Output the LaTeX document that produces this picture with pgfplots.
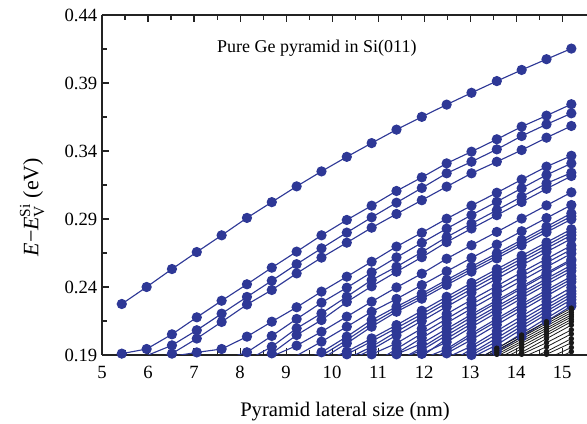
\documentclass[border=0pt]{standalone}
\usepackage{amsmath}
\usepackage{fontspec}
\setmainfont{Liberation Serif}
\usepackage{pgfplots}
\pgfplotsset{compat=1.18}

\definecolor{levelblue}{RGB}{46,56,150}
\definecolor{axisgray}{RGB}{35,35,35}

\tikzset{
  lvl/.style={levelblue, line width=0.85pt, mark=*, mark size=3.4pt, mark options={solid}},
  blk/.style={black!90, line width=0.6pt, mark=*, mark size=1.7pt, mark options={solid}},
}

\begin{document}
\begin{tikzpicture}
\begin{axis}[
  scale only axis,
  width=363.75pt, height=255pt,
  xmin=5, xmax=15.54, ymin=0.19, ymax=0.44,
  axis x line*=box, axis y line*=left,
  xtick={5,6,...,15}, minor x tick num=1,
  ytick={0.19,0.24,0.29,0.34,0.39,0.44}, minor y tick num=1,
  xtick pos=both, ytick pos=left,
  tick align=inside,
  major tick length=5pt, minor tick length=3.5pt,
  tick style={axisgray, line width=0.8pt},
  axis line style={axisgray, line width=1.1pt},
  /pgf/number format/assume math mode=true,
  yticklabel style={/pgf/number format/.cd, fixed, fixed zerofill, precision=2},
  xticklabel style={yshift=-5pt},
  ticklabel style={font=\fontsize{14}{16}\selectfont},
  xlabel={Pyramid lateral size (nm)},
  ylabel={\textit{E}−\textit{E}$^{\text{Si}}_{\text{V}}$ (eV)},
  xlabel style={font=\fontsize{15.5}{18}\selectfont, at={(axis description cs:0.501,-0.166)}, anchor=center},
  ylabel style={font=\fontsize{16.5}{19}\selectfont, at={(axis description cs:-0.144,0.435)}, anchor=center},
  clip=true,
]
\coordinate (frameLL) at (rel axis cs:0,0);
\coordinate (frameUR) at (rel axis cs:1,1);

% top level
\addplot[lvl] coordinates {(5.43,0.2275)(5.97,0.2400)(6.52,0.2532)(7.06,0.2657)(7.60,0.2780)(8.15,0.2908)(8.69,0.3024)(9.23,0.3140)(9.77,0.3250)(10.32,0.3357)(10.86,0.3458)(11.40,0.3557)(11.95,0.3651)(12.49,0.3741)(13.03,0.3828)(13.58,0.3914)(14.12,0.3996)(14.66,0.4075)(15.20,0.4153)};

% second group
\addplot[lvl] coordinates {(5.43,0.1910)(5.97,0.1944)(6.52,0.2052)(7.06,0.2177)(7.60,0.2299)(8.15,0.2420)(8.69,0.2542)(9.23,0.2660)(9.77,0.2780)(10.32,0.2893)(10.86,0.2998)(11.40,0.3106)(11.95,0.3206)(12.49,0.3309)(13.03,0.3395)(13.58,0.3486)(14.12,0.3579)(14.66,0.3660)(15.20,0.3744)};
\addplot[lvl] coordinates {(5.97,0.1895)(6.52,0.1971)(7.06,0.2082)(7.60,0.2204)(8.15,0.2327)(8.69,0.2446)(9.23,0.2568)(9.77,0.2684)(10.32,0.2800)(10.86,0.2912)(11.40,0.3020)(11.95,0.3128)(12.49,0.3236)(13.03,0.3321)(13.58,0.3412)(14.12,0.3510)(14.66,0.3596)(15.20,0.3677)};
\addplot[lvl] coordinates {(5.97,0.1860)(6.52,0.1910)(7.06,0.2021)(7.60,0.2143)(8.15,0.2271)(8.69,0.2378)(9.23,0.2500)(9.77,0.2616)(10.32,0.2726)(10.86,0.2836)(11.40,0.2937)(11.95,0.3038)(12.49,0.3138)(13.03,0.3236)(13.58,0.3321)(14.12,0.3407)(14.66,0.3498)(15.20,0.3584)};

% third group
\addplot[lvl] coordinates {(6.52,0.1890)(7.06,0.1919)(7.60,0.1944)(8.15,0.2035)(8.69,0.2145)(9.23,0.2251)(9.77,0.2366)(10.32,0.2476)(10.86,0.2586)(11.40,0.2697)(11.95,0.2799)(12.49,0.2902)(13.03,0.2998)(13.58,0.3093)(14.12,0.3190)(14.66,0.3285)(15.20,0.3365)};
\addplot[lvl] coordinates {(7.60,0.1860)(8.15,0.1920)(8.69,0.2040)(9.23,0.2165)(9.77,0.2285)(10.32,0.2395)(10.86,0.2508)(11.40,0.2618)(11.95,0.2725)(12.49,0.2829)(13.03,0.2929)(13.58,0.3027)(14.12,0.3126)(14.66,0.3224)(15.20,0.3309)};
\addplot[lvl] coordinates {(8.15,0.1860)(8.69,0.1961)(9.23,0.2096)(9.77,0.2206)(10.32,0.2329)(10.86,0.2451)(11.40,0.2549)(11.95,0.2656)(12.49,0.2767)(13.03,0.2866)(13.58,0.2965)(14.12,0.3064)(14.66,0.3162)(15.20,0.3240)};
\addplot[lvl] coordinates {(8.15,0.1820)(8.69,0.1912)(9.23,0.2047)(9.77,0.2157)(10.32,0.2290)(10.86,0.2405)(11.40,0.2512)(11.95,0.2619)(12.49,0.2730)(13.03,0.2830)(13.58,0.2928)(14.12,0.3025)(14.66,0.3122)(15.20,0.3216)};

% fourth group
\addplot[lvl] coordinates {(8.69,0.1890)(9.23,0.1969)(9.77,0.2071)(10.32,0.2182)(10.86,0.2292)(11.40,0.2397)(11.95,0.2498)(12.49,0.2608)(13.03,0.2707)(13.58,0.2805)(14.12,0.2903)(14.66,0.3000)(15.20,0.3096)};
\addplot[lvl] coordinates {(9.23,0.1895)(9.77,0.1998)(10.32,0.2108)(10.86,0.2218)(11.40,0.2312)(11.95,0.2414)(12.49,0.2515)(13.03,0.2614)(13.58,0.2712)(14.12,0.2810)(14.66,0.2907)(15.20,0.3003)};
\addplot[lvl] coordinates {(9.23,0.1840)(9.77,0.1920)(10.32,0.2035)(10.86,0.2157)(11.40,0.2255)(11.95,0.2351)(12.49,0.2452)(13.03,0.2550)(13.58,0.2648)(14.12,0.2746)(14.66,0.2844)(15.20,0.2942)};
\addplot[lvl] coordinates {(9.23,0.1820)(9.77,0.1895)(10.32,0.2010)(10.86,0.2132)(11.40,0.2236)(11.95,0.2333)(12.49,0.2434)(13.03,0.2532)(13.58,0.2629)(14.12,0.2727)(14.66,0.2824)(15.20,0.2920)};
\addplot[lvl] coordinates {(9.23,0.1800)(9.77,0.1870)(10.32,0.1986)(10.86,0.2108)(11.40,0.2218)(11.95,0.2314)(12.49,0.2415)(13.03,0.2513)(13.58,0.2610)(14.12,0.2707)(14.66,0.2803)(15.20,0.2898)};

% fifth group
\addplot[lvl] coordinates {(9.77,0.1850)(10.32,0.1925)(10.86,0.2022)(11.40,0.2120)(11.95,0.2225)(12.49,0.2328)(13.03,0.2430)(13.58,0.2531)(14.12,0.2630)(14.66,0.2728)(15.20,0.2825)};
\addplot[lvl] coordinates {(9.77,0.1830)(10.32,0.1905)(10.86,0.2000)(11.40,0.2098)(11.95,0.2200)(12.49,0.2305)(13.03,0.2408)(13.58,0.2509)(14.12,0.2608)(14.66,0.2706)(15.20,0.2803)};
\addplot[lvl] coordinates {(9.77,0.1800)(10.32,0.1870)(10.86,0.1961)(11.40,0.2071)(11.95,0.2178)(12.49,0.2282)(13.03,0.2385)(13.58,0.2486)(14.12,0.2586)(14.66,0.2684)(15.20,0.2781)};
\addplot[lvl] coordinates {(10.32,0.1850)(10.86,0.1940)(11.40,0.2045)(11.95,0.2150)(12.49,0.2255)(13.03,0.2358)(13.58,0.2460)(14.12,0.2560)(14.66,0.2658)(15.20,0.2755)};
\addplot[lvl] coordinates {(10.32,0.1840)(10.86,0.1905)(11.40,0.1986)(11.95,0.2095)(12.49,0.2202)(13.03,0.2306)(13.58,0.2408)(14.12,0.2508)(14.66,0.2607)(15.20,0.2705)};
\addplot[lvl] coordinates {(10.32,0.1800)(10.86,0.1860)(11.40,0.1912)(11.95,0.2025)(12.49,0.2135)(13.03,0.2241)(13.58,0.2345)(14.12,0.2447)(14.66,0.2547)(15.20,0.2646)};

% sixth group
\addplot[lvl] coordinates {(10.86,0.1830)(11.40,0.1945)(11.95,0.2058)(12.49,0.2166)(13.03,0.2272)(13.58,0.2376)(14.12,0.2478)(14.66,0.2578)(15.20,0.2676)};
\addplot[lvl] coordinates {(10.86,0.1840)(11.40,0.1905)(11.95,0.1985)(12.49,0.2092)(13.03,0.2198)(13.58,0.2302)(14.12,0.2404)(14.66,0.2504)(15.20,0.2603)};
\addplot[lvl] coordinates {(11.40,0.1850)(11.95,0.1955)(12.49,0.2068)(13.03,0.2178)(13.58,0.2285)(14.12,0.2390)(14.66,0.2492)(15.20,0.2592)};
\addplot[lvl] coordinates {(10.86,0.1800)(11.40,0.1860)(11.95,0.1935)(12.49,0.2045)(13.03,0.2152)(13.58,0.2257)(14.12,0.2360)(14.66,0.2461)(15.20,0.2561)};
\addplot[lvl] coordinates {(11.40,0.1820)(11.95,0.1890)(12.49,0.2020)(13.03,0.2130)(13.58,0.2237)(14.12,0.2340)(14.66,0.2441)(15.20,0.2540)};
\addplot[lvl] coordinates {(11.40,0.1840)(11.95,0.1908)(12.49,0.1995)(13.03,0.2105)(13.58,0.2212)(14.12,0.2316)(14.66,0.2418)(15.20,0.2518)};
\addplot[lvl] coordinates {(11.40,0.1800)(11.95,0.1870)(12.49,0.1945)(13.03,0.2058)(13.58,0.2167)(14.12,0.2273)(14.66,0.2377)(15.20,0.2478)};
\addplot[lvl] coordinates {(11.95,0.1830)(12.49,0.1930)(13.03,0.2040)(13.58,0.2148)(14.12,0.2254)(14.66,0.2357)(15.20,0.2458)};
\addplot[lvl] coordinates {(11.95,0.1850)(12.49,0.1912)(13.03,0.2012)(13.58,0.2122)(14.12,0.2229)(14.66,0.2334)(15.20,0.2437)};
\addplot[lvl] coordinates {(11.95,0.1810)(12.49,0.1880)(13.03,0.1965)(13.58,0.2077)(14.12,0.2186)(14.66,0.2292)(15.20,0.2396)};

% seventh group
\addplot[lvl] coordinates {(12.49,0.1830)(13.03,0.1945)(13.58,0.2052)(14.12,0.2160)(14.66,0.2266)(15.20,0.2370)};
\addplot[lvl] coordinates {(12.49,0.1840)(13.03,0.1915)(13.58,0.2025)(14.12,0.2135)(14.66,0.2243)(15.20,0.2349)};
\addplot[lvl] coordinates {(12.49,0.1800)(13.03,0.1900)(13.58,0.2000)(14.12,0.2112)(14.66,0.2222)(15.20,0.2328)};
\addplot[lvl] coordinates {(12.49,0.1810)(13.03,0.1880)(13.58,0.1975)(14.12,0.2090)(14.66,0.2200)(15.20,0.2307)};
\addplot[lvl] coordinates {(13.03,0.1850)(13.58,0.1945)(14.12,0.2058)(14.66,0.2170)(15.20,0.2280)};
\addplot[lvl] coordinates {(13.03,0.1830)(13.58,0.1925)(14.12,0.2035)(14.66,0.2148)(15.20,0.2260)};

% dense bundle of levels at the largest sizes
\addplot[blk] coordinates {(13.03,0.1840)(13.58,0.1950)(14.12,0.2047)(14.66,0.2145)(15.20,0.2245)};
\addplot[blk] coordinates {(13.03,0.1830)(13.58,0.1935)(14.12,0.2032)(14.66,0.2130)(15.20,0.2228)};
\addplot[blk] coordinates {(13.03,0.1820)(13.58,0.1920)(14.12,0.2017)(14.66,0.2114)(15.20,0.2212)};
\addplot[blk] coordinates {(13.03,0.1810)(13.58,0.1905)(14.12,0.2000)(14.66,0.2097)(15.20,0.2195)};
\addplot[blk] coordinates {(13.03,0.1800)(13.58,0.1890)(14.12,0.1985)(14.66,0.2082)(15.20,0.2180)};
\addplot[blk] coordinates {(13.03,0.1790)(13.58,0.1870)(14.12,0.1965)(14.66,0.2063)(15.20,0.2162)};
\addplot[blk] coordinates {(13.03,0.1780)(13.58,0.1850)(14.12,0.1945)(14.66,0.2045)(15.20,0.2145)};
\addplot[blk] coordinates {(13.03,0.1760)(13.58,0.1830)(14.12,0.1920)(14.66,0.2020)(15.20,0.2120)};
\addplot[blk] coordinates {(13.58,0.1820)(14.12,0.1905)(14.66,0.1990)(15.20,0.2085)};
\addplot[blk] coordinates {(13.58,0.1800)(14.12,0.1880)(14.66,0.1960)(15.20,0.2055)};
\addplot[blk] coordinates {(13.58,0.1780)(14.12,0.1850)(14.66,0.1925)(15.20,0.2020)};
\addplot[blk] coordinates {(14.12,0.1830)(14.66,0.1905)(15.20,0.1990)};
\addplot[blk] coordinates {(14.12,0.1800)(14.66,0.1870)(15.20,0.1955)};
\addplot[blk] coordinates {(14.66,0.1840)(15.20,0.1925)};

\node[font=\fontsize{13.5}{16}\selectfont] at (axis description cs:0.443,0.903) {Pure Ge pyramid in Si(011)};
\end{axis}
% page frame: white margin on the left, axis frame running to the right edge
\pgfresetboundingbox
\path ([xshift=-76.5pt,yshift=-51.75pt]frameLL) rectangle ([yshift=11.25pt]frameUR);
\end{tikzpicture}
\end{document}
